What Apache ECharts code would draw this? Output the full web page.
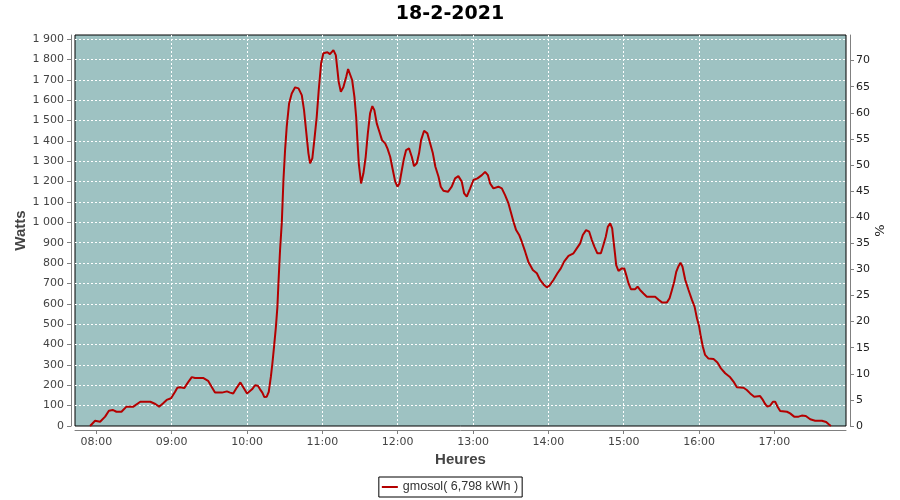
<!DOCTYPE html>
<html>
<head>
<meta charset="utf-8">
<script src="https://cdn.jsdelivr.net/npm/echarts@6/dist/echarts.min.js"></script>
<style>html,body{margin:0;padding:0;background:#fff}#c{width:900px;height:500px}</style>
</head>
<body>
<div id="c"></div>
<script>
// Time of day in minutes since midnight
var times = [475,479,483,487,490,493,496,500,504,509.5,515,523,527,530,533,536,539.5,542.7,544.5,546.7,550,553,556,558.6,565,569,572,574.5,580,584,586.5,589,592,594.7,597,600,604,606.4,608.6,610.4,612.2,613.8,615.7,617.3,619,620.2,621.5,623,624.2,625,626.3,627.7,629,630.3,631.6,633.5,635.6,638.3,641,643.6,645.4,647,648.9,650.2,652,653.6,655.5,657.1,659,660.8,664,666,668.8,670.7,672,673,674.7,676.7,679,680.5,682,683.7,685.5,686.9,687.9,689,690.8,692.7,694.5,696.2,698,699.8,701.4,703.3,705.4,707.5,710,711.8,714,716.1,718,719.8,721.4,723.3,725,726.7,729,731.2,733,735.2,737,738.6,741,743.6,745.8,748,750,752.5,754.3,756.4,760,763,765.7,768.3,771,772.9,775,777.7,780.3,783.5,787,789.6,791.8,793.6,796.2,800.2,802.9,805.5,808.2,810,812.2,814.3,816.7,818.8,821.5,824,827.6,830.8,833.4,836.6,838.7,840.8,844,847.2,849.9,852.5,856,860,862.6,865.3,867.4,870,872.5,874.6,876.7,879,881.8,883.8,885.7,887.3,889.2,890.8,891.8,893,894,895.8,898.5,900.4,902,903.8,905.7,909.1,911,913,915.7,918.4,925,928,930.4,934.4,936.5,938.4,940.2,941.8,943.6,945.2,946.8,949,951.6,954.3,956.4,958.3,960.1,961.4,963,964.8,967.5,971.5,974.6,977.4,980.8,984.8,987.4,990.1,995.4,998,1000.7,1003.9,1008.6,1010.8,1012.6,1014.4,1016.6,1018.8,1020.6,1022.5,1024.6,1030,1032.5,1035.7,1039.2,1041.8,1045,1048.5,1052.4,1057.8,1061.2,1063,1065];
var watts = [0,26,21,46,75,79,70,70,95,95,119,119,108,95,111,128,136,168,188,190,186,214,240,236,236,222,190,164,164,170,164,160,190,214,190,160,180,200,198,180,164,142,144,168,242,308,389,487,586,700,864,1000,1208,1355,1469,1584,1633,1663,1658,1625,1551,1453,1339,1290,1314,1404,1518,1650,1781,1830,1835,1826,1846,1821,1748,1690,1641,1663,1715,1753,1748,1699,1617,1518,1404,1290,1191,1241,1322,1437,1535,1571,1551,1486,1445,1404,1388,1363,1322,1257,1200,1175,1191,1257,1314,1355,1363,1322,1276,1290,1339,1404,1450,1437,1388,1339,1273,1224,1175,1155,1150,1175,1216,1227,1200,1142,1126,1167,1208,1216,1232,1248,1232,1191,1167,1175,1167,1134,1093,1052,1003,962,938,905,856,807,766,750,717,692,681,689,717,750,774,807,835,848,872,897,938,962,954,913,880,848,848,889,929,978,995,970,913,848,790,762,774,774,741,700,672,672,684,668,651,635,635,619,607,607,627,668,708,757,785,802,782,717,668,619,586,529,487,438,389,349,331,329,312,283,259,239,218,190,188,177,160,144,147,128,108,95,100,119,119,95,74,70,62,46,46,51,49,33,26,26,20,10,0];
var hourTicks = [480,540,600,660,720,780,840,900,960,1020];
var seriesName = 'gmosol( 6,798 kWh )';
var titleText = '18-2-2021';

var data = times.map(function(t,i){return [t, watts[i]];});
function hhmm(v){var h=Math.floor(v/60), m=Math.round(v-h*60);return (h<10?'0':'')+h+':'+(m<10?'0':'')+m;}
function sp(v){var s=String(Math.round(v));return s.replace(/\B(?=(\d{3})+(?!\d))/g,' ');}

var axisGray = '#808080';
var chart = echarts.init(document.getElementById('c'), null, {renderer:'canvas'});
chart.setOption({
  animation:false,
  backgroundColor:'#fff',
  title:{text:titleText, left:'center', top:5, padding:0,
    textStyle:{fontFamily:'DejaVu Sans', fontWeight:'bold', fontSize:19, color:'#000'}},
  legend:{bottom:3, left:'center', icon:'rect', itemWidth:16, itemHeight:2, itemGap:5,
    padding:[3,4,3,3], borderColor:'#000', borderWidth:1, borderRadius:0,
    textStyle:{fontFamily:'Liberation Sans', fontSize:12.5, color:'#333', lineHeight:14},
    data:[seriesName]},
  grid:{left:75, right:54, top:35, bottom:74, show:true, backgroundColor:'#9EC2C2',
    borderColor:'#000', borderWidth:1, containLabel:false},
  xAxis:{type:'value', min:463, max:1077, offset:4,
    name:'Heures', nameLocation:'middle', nameGap:22, nameMoveOverlap:false,
    nameTextStyle:{fontFamily:'Liberation Sans', fontWeight:'bold', fontSize:15, color:'#444'},
    axisLine:{show:true, onZero:false, lineStyle:{color:axisGray}},
    axisTick:{show:true, length:4, customValues:hourTicks, lineStyle:{color:axisGray}},
    axisLabel:{customValues:hourTicks, formatter:hhmm, margin:7, color:'#444', fontFamily:'DejaVu Sans', fontSize:11},
    splitLine:{show:true, showMinLine:false, showMaxLine:false, lineStyle:{color:'#fff', type:[2,2], width:1}}
  },
  yAxis:[
    {type:'value', min:0, max:1920, interval:100, offset:4, position:'left',
      name:'Watts', nameLocation:'middle', nameGap:43, nameMoveOverlap:false,
      nameTextStyle:{fontFamily:'Liberation Sans', fontWeight:'bold', fontSize:15, color:'#444'},
      axisLine:{show:true, lineStyle:{color:axisGray}},
      axisTick:{show:true, length:4, lineStyle:{color:axisGray}},
      axisLabel:{formatter:sp, margin:7, color:'#444', fontFamily:'DejaVu Sans', fontSize:11, showMaxLabel:false},
      splitLine:{show:true, showMinLine:false, showMaxLine:false, lineStyle:{color:'#fff', type:[2,2], width:1}}
    },
    {type:'value', min:0, max:74.9, interval:5, offset:4, position:'right',
      name:'%', nameLocation:'middle', nameGap:24, nameMoveOverlap:false,
      nameTextStyle:{fontFamily:'DejaVu Sans', fontSize:13, color:'#222'},
      axisLine:{show:true, lineStyle:{color:axisGray}},
      axisTick:{show:true, length:4, lineStyle:{color:axisGray}},
      axisLabel:{margin:6, color:'#222', fontFamily:'DejaVu Sans', fontSize:11, showMaxLabel:false},
      splitLine:{show:false}
    }
  ],
  series:[{name:seriesName, type:'line', data:data, yAxisIndex:0, showSymbol:false,
    lineStyle:{color:'#B40000', width:2}, itemStyle:{color:'#B40000'}}]
});
</script>
</body>
</html>
